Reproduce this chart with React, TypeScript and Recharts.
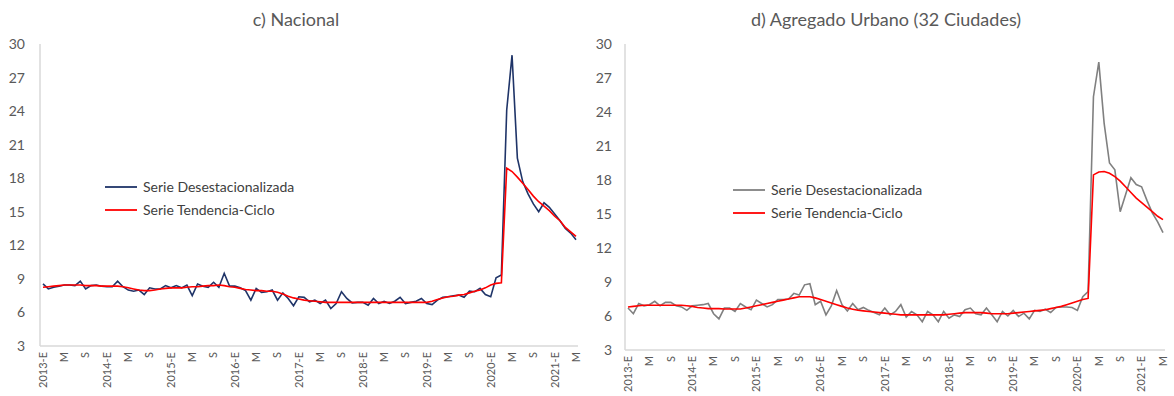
import React from "react";
import { LineChart, Line, XAxis, YAxis } from "recharts";

const years = [2013, 2014, 2015, 2016, 2017, 2018, 2019, 2020, 2021];
const monthCodes = ["E", "F", "M", "A", "M", "J", "J", "A", "S", "O", "N", "D"];
const yTicks = [3, 6, 9, 12, 15, 18, 21, 24, 27, 30];
const seriesNames = ["Serie Desestacionalizada", "Serie Tendencia-Ciclo"];

// Nacional (c)
const nacionalDesest = [
  8.55, 8.1, 8.25, 8.35, 8.45, 8.45, 8.4, 8.8, 8.1, 8.4, 8.45, 8.35,
  8.3, 8.3, 8.8, 8.3, 8.0, 7.9, 8.0, 7.6, 8.2, 8.1, 8.1, 8.4,
  8.2, 8.4, 8.2, 8.45, 7.5, 8.55, 8.35, 8.25, 8.7, 8.25, 9.5, 8.35,
  8.35, 8.2, 7.95, 7.1, 8.15, 7.8, 7.85, 8.0, 7.1, 7.75, 7.25, 6.6,
  7.4, 7.35, 6.95, 7.1, 6.8, 7.1, 6.35, 6.8, 7.85, 7.25, 6.85, 6.9,
  6.9, 6.65, 7.25, 6.8, 7.0, 6.8, 7.0, 7.35, 6.8, 6.9, 7.0, 7.25,
  6.8, 6.7, 7.1, 7.35, 7.4, 7.5, 7.55, 7.35, 7.9, 7.85, 8.15, 7.6,
  7.4, 9.1, 9.35, 24.1, 29.0, 19.8, 17.7, 16.6, 15.7, 15.0, 15.8, 15.4,
  14.8, 14.2, 13.5, 13.1, 12.5,
];
const nacionalTendencia = [
  8.25, 8.3, 8.35, 8.4, 8.45, 8.45, 8.45, 8.45, 8.4, 8.4, 8.4, 8.35,
  8.35, 8.35, 8.35, 8.3, 8.2, 8.1, 8.0, 7.95, 7.95, 8.0, 8.1, 8.15,
  8.2, 8.2, 8.2, 8.25, 8.3, 8.3, 8.35, 8.4, 8.4, 8.45, 8.4, 8.3,
  8.25, 8.15, 8.05, 8.0, 7.95, 7.95, 7.9, 7.9, 7.8, 7.65, 7.45, 7.3,
  7.2, 7.1, 7.05, 7.0, 6.95, 6.9, 6.9, 6.9, 6.9, 6.9, 6.9, 6.9,
  6.9, 6.9, 6.9, 6.9, 6.9, 6.9, 6.9, 6.9, 6.9, 6.9, 6.9, 6.9,
  6.9, 7.0, 7.15, 7.3, 7.4, 7.45, 7.55, 7.6, 7.75, 7.9, 8.0, 8.2,
  8.45, 8.6, 8.65, 18.9, 18.6, 18.1, 17.55, 17.0, 16.4, 15.9, 15.5, 15.1,
  14.6, 14.2, 13.6, 13.2, 12.8,
];

// Agregado Urbano (d)
const urbanoDesest = [
  6.7, 6.2, 7.1, 6.9, 7.0, 7.3, 6.9, 7.2, 7.2, 6.9, 6.8, 6.5,
  6.9, 6.95, 7.0, 7.1, 6.2, 5.75, 6.7, 6.7, 6.4, 7.1, 6.8, 6.55,
  7.4, 7.1, 6.8, 7.0, 7.45, 7.45, 7.5, 8.0, 7.85, 8.75, 8.85, 7.0,
  7.3, 6.1, 6.9, 8.25, 7.0, 6.45, 7.1, 6.55, 6.75, 6.5, 6.3, 6.1,
  6.7, 6.1, 6.4, 7.0, 5.9, 6.4, 6.1, 5.5, 6.4, 6.1, 5.5, 6.4,
  5.8, 6.1, 5.95, 6.55, 6.7, 6.2, 6.1, 6.7, 6.1, 5.5, 6.4, 6.0,
  6.5, 5.95, 6.25, 5.75, 6.5, 6.4, 6.6, 6.3, 6.75, 6.8, 6.8, 6.75,
  6.5, 7.7, 8.15, 25.35, 28.4, 23.0, 19.5, 18.9, 15.2, 16.7, 18.2, 17.6,
  17.4, 16.2, 15.1, 14.3, 13.35,
];
const urbanoTendencia = [
  6.8, 6.85, 6.9, 6.95, 6.95, 6.95, 6.95, 6.95, 6.95, 6.95, 6.95, 6.9,
  6.85, 6.75, 6.7, 6.65, 6.65, 6.65, 6.62, 6.62, 6.62, 6.62, 6.7, 6.8,
  6.9, 7.0, 7.1, 7.2, 7.3, 7.4, 7.5, 7.6, 7.7, 7.7, 7.7, 7.6,
  7.45, 7.3, 7.15, 7.0, 6.85, 6.7, 6.6, 6.5, 6.45, 6.4, 6.35, 6.3,
  6.25, 6.2, 6.15, 6.1, 6.1, 6.1, 6.1, 6.1, 6.1, 6.1, 6.1, 6.1,
  6.15, 6.2, 6.25, 6.3, 6.3, 6.3, 6.3, 6.25, 6.2, 6.2, 6.2, 6.2,
  6.25, 6.3, 6.35, 6.4, 6.45, 6.5, 6.55, 6.65, 6.75, 6.85, 7.0, 7.15,
  7.3, 7.45, 7.55, 18.45, 18.7, 18.75, 18.6, 18.3, 17.9, 17.4, 16.9, 16.4,
  16.0, 15.6, 15.2, 14.8, 14.5,
];

// categories: one per month, Jan 2013 .. May 2021
const months: string[] = [];
const tickLabels: Record<string, string> = {};
years.forEach((y) => {
  monthCodes.forEach((code, k) => {
    if (y === 2021 && k > 4) return;
    const key = `${y}-${k + 1}`;
    months.push(key);
    tickLabels[key] = k === 0 ? `${y}-E` : code;
  });
});

const nacionalData = months.map((m, i) => ({
  mes: m,
  desest: nacionalDesest[i],
  tendencia: nacionalTendencia[i],
}));
const urbanoData = months.map((m, i) => ({
  mes: m,
  desest: urbanoDesest[i],
  tendencia: urbanoTendencia[i],
}));

const FONT = "Lato, 'Open Sans', sans-serif";
const TEXT = "#595959";
const AXIS = "#d9d9d9";
const RED = "#ff0000";

function MonthTick({ x, y, payload }: any) {
  return (
    <text
      x={x}
      y={y - 2}
      dy="0.35em"
      textAnchor="end"
      transform={`rotate(-90, ${x}, ${y - 2})`}
      fontSize={11}
      fill={TEXT}
      fontFamily={FONT}
    >
      {tickLabels[payload.value]}
    </text>
  );
}

function LegendBox({ colors, left, top }: { colors: string[]; left: number; top: number }) {
  return (
    <div
      style={{
        position: "absolute",
        left,
        top,
        fontFamily: FONT,
        fontSize: 14,
        color: "#404040",
        pointerEvents: "none",
      }}
    >
      {seriesNames.map((name, i) => (
        <div key={name} style={{ display: "flex", alignItems: "center", height: 23 }}>
          <svg width={32} height={4} style={{ marginRight: 6 }}>
            <line x1={0} y1={2} x2={32} y2={2} stroke={colors[i]} strokeWidth={1.8} />
          </svg>
          <span>{name}</span>
        </div>
      ))}
    </div>
  );
}

function Panel({
  title,
  data,
  desestColor,
  width,
  marginRight,
  xAxisHeight,
  tickMargin,
  legendPos,
  titleCenter,
}: {
  title: string;
  data: any[];
  desestColor: string;
  width: number;
  marginRight: number;
  xAxisHeight: number;
  tickMargin: number;
  legendPos: { left: number; top: number };
  titleCenter: number;
}) {
  return (
    <div style={{ position: "relative", width, height: 396 }}>
      <div
        style={{
          position: "absolute",
          top: 8,
          left: titleCenter - 200,
          width: 400,
          textAlign: "center",
          fontFamily: FONT,
          fontSize: 18,
          color: TEXT,
        }}
      >
        {title}
      </div>
      <LineChart
        width={width}
        height={396}
        data={data}
        margin={{ top: 44, right: marginRight, bottom: 0, left: 0 }}
      >
        <XAxis
          dataKey="mes"
          interval={3}
          height={xAxisHeight}
          tickLine={false}
          axisLine={{ stroke: AXIS, strokeWidth: 1.5 }}
          tick={<MonthTick />}
          padding={{ left: 3, right: 2 }}
        />
        <YAxis
          width={40}
          domain={[3, 30]}
          ticks={yTicks}
          tickLine={false}
          tickMargin={tickMargin}
          axisLine={{ stroke: AXIS, strokeWidth: 1.5 }}
          tick={{ fontSize: 14, fill: TEXT, fontFamily: FONT }}
        />
        <Line
          type="linear"
          dataKey="desest"
          name={seriesNames[0]}
          stroke={desestColor}
          strokeWidth={1.6}
          dot={false}
          isAnimationActive={false}
        />
        <Line
          type="linear"
          dataKey="tendencia"
          name={seriesNames[1]}
          stroke={RED}
          strokeWidth={1.6}
          dot={false}
          isAnimationActive={false}
        />
      </LineChart>
      <LegendBox colors={[desestColor, RED]} left={legendPos.left} top={legendPos.top} />
    </div>
  );
}

export default function App() {
  return (
    <div style={{ position: "absolute", left: 0, top: 0, width: 1174, height: 396, background: "#fff" }}>
      <div style={{ position: "absolute", left: 0, top: 0 }}>
        <Panel
          title="c) Nacional"
          data={nacionalData}
          desestColor="#1f3468"
          width={590}
          marginRight={12}
          xAxisHeight={50}
          tickMargin={9}
          legendPos={{ left: 105, top: 175 }}
          titleCenter={296}
        />
      </div>
      <div style={{ position: "absolute", left: 585, top: 0 }}>
        <Panel
          title="d) Agregado Urbano (32 Ciudades)"
          data={urbanoData}
          desestColor="#808080"
          width={589}
          marginRight={9}
          xAxisHeight={46}
          tickMargin={7}
          legendPos={{ left: 148, top: 178 }}
          titleCenter={301}
        />
      </div>
    </div>
  );
}
